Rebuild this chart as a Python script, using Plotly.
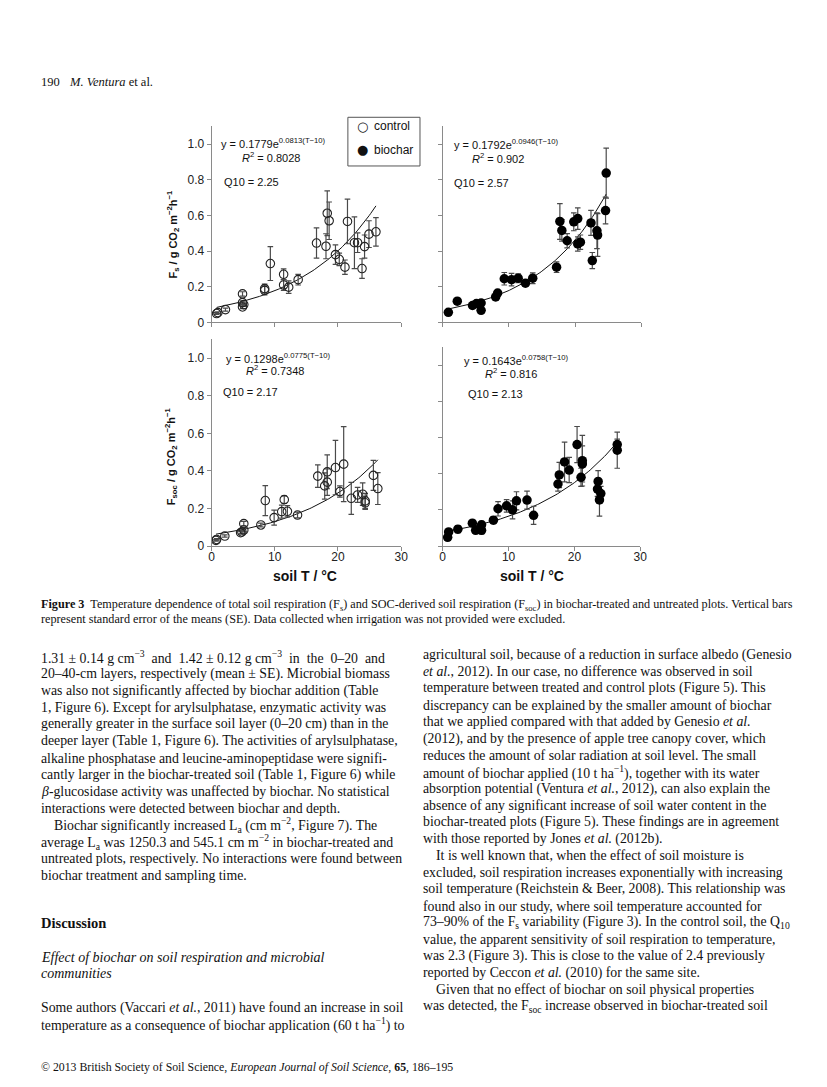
import numpy as np
import plotly.graph_objects as go

W, H = 827, 1087

# ---------------- data ----------------
fs_ctrl_T = [0.8, 1.0, 2.2, 4.9, 4.9, 4.9, 5.1, 8.4, 8.4, 9.3, 11.4, 11.4, 12.2, 13.7,
             16.6, 18.1, 18.3, 18.6, 19.6, 20.2, 21.1, 21.5, 22.6, 23.1, 23.8, 24.2, 24.9, 26.0]
fs_ctrl_y = [0.050, 0.055, 0.072, 0.160, 0.111, 0.087, 0.100, 0.180, 0.190, 0.330, 0.270, 0.210, 0.198, 0.240,
             0.445, 0.427, 0.612, 0.570, 0.380, 0.354, 0.310, 0.566, 0.447, 0.447, 0.302, 0.425, 0.495, 0.508]
fs_ctrl_e = [0.005, 0.005, 0.008, 0.012, 0.010, 0.010, 0.010, 0.025, 0.025, 0.095, 0.030, 0.030, 0.035, 0.030,
             0.085, 0.070, 0.125, 0.105, 0.055, 0.035, 0.040, 0.125, 0.145, 0.055, 0.055, 0.065, 0.075, 0.080]

fs_bio_T = [0.85, 2.2, 4.5, 5.1, 5.8, 5.8, 8.0, 8.3, 9.3, 10.4, 11.4, 12.5, 13.6,
            17.2, 17.7, 18.0, 18.8, 19.8, 20.4, 20.4, 20.8, 22.4, 22.6, 23.3, 23.4, 24.6, 24.7]
fs_bio_y = [0.057, 0.119, 0.095, 0.106, 0.109, 0.068, 0.143, 0.165, 0.245, 0.240, 0.248, 0.220, 0.248,
            0.310, 0.566, 0.516, 0.458, 0.564, 0.582, 0.440, 0.450, 0.558, 0.347, 0.514, 0.490, 0.627, 0.837]
fs_bio_e = [0.005, 0.008, 0.008, 0.008, 0.008, 0.008, 0.010, 0.012, 0.035, 0.035, 0.025, 0.015, 0.030,
            0.030, 0.100, 0.060, 0.040, 0.050, 0.060, 0.040, 0.040, 0.070, 0.045, 0.100, 0.120, 0.075, 0.140]

fsoc_ctrl_T = [0.7, 0.8, 2.1, 4.6, 4.8, 5.1, 5.1, 7.8, 8.5, 9.9, 11.1, 11.5, 12.0, 13.6,
               16.8, 17.9, 18.3, 18.3, 19.6, 20.3, 20.9, 22.1, 23.1, 23.9, 24.3, 24.3, 25.6, 26.3]
fsoc_ctrl_y = [0.030, 0.035, 0.053, 0.071, 0.075, 0.085, 0.119, 0.112, 0.242, 0.151, 0.183, 0.247, 0.185, 0.165,
               0.372, 0.320, 0.395, 0.340, 0.418, 0.290, 0.436, 0.254, 0.272, 0.276, 0.240, 0.230, 0.376, 0.306]
fsoc_ctrl_e = [0.004, 0.004, 0.006, 0.008, 0.008, 0.010, 0.012, 0.010, 0.080, 0.040, 0.035, 0.020, 0.030, 0.015,
               0.060, 0.070, 0.090, 0.070, 0.145, 0.030, 0.200, 0.085, 0.040, 0.060, 0.040, 0.035, 0.080, 0.085]

fsoc_bio_T = [0.75, 0.9, 2.3, 4.5, 5.0, 5.9, 5.9, 7.7, 8.4, 9.7, 10.6, 11.2, 12.8, 13.8,
              17.5, 17.7, 18.5, 19.2, 20.4, 21.0, 21.2, 21.2, 23.5, 23.6, 23.8, 24.0, 26.5, 26.5]
fsoc_bio_y = [0.048, 0.078, 0.093, 0.126, 0.087, 0.087, 0.117, 0.143, 0.206, 0.222, 0.200, 0.250, 0.254, 0.170,
              0.343, 0.393, 0.465, 0.420, 0.561, 0.380, 0.472, 0.454, 0.315, 0.357, 0.255, 0.290, 0.561, 0.530]
fsoc_bio_e = [0.010, 0.010, 0.020, 0.015, 0.010, 0.020, 0.020, 0.020, 0.040, 0.035, 0.050, 0.050, 0.050, 0.050,
              0.040, 0.070, 0.110, 0.070, 0.100, 0.050, 0.140, 0.100, 0.040, 0.060, 0.090, 0.040, 0.030, 0.100]

fit_a = [0.1779, 0.1792, 0.1298, 0.1643]
fit_b = [0.0813, 0.0946, 0.0775, 0.0758]
fit_a_txt = ["0.1779", "0.1792", "0.1298", "0.1643"]
fit_b_txt = ["0.0813", "0.0946", "0.0775", "0.0758"]
r2_txt = ["0.8028", "0.902", "0.7348", "0.816"]
q10_txt = ["2.25", "2.57", "2.17", "2.13"]

y_tickvals = [0, 0.2, 0.4, 0.6, 0.8, 1.0]
y_ticktext = ["0", "0.2", "0.4", "0.6", "0.8", "1.0"]
x_tickvals = [0, 10, 20, 30]
x_ticktext = ["0", "10", "20", "30"]

series_names = ["control", "biochar"]
legend_glyphs = ["○", "●"]

left_col = [
    "1.31 ± 0.14 g cm<sup>−3</sup>  and  1.42 ± 0.12 g cm<sup>−3</sup>  in  the  0–20  and",
    "20–40-cm layers, respectively (mean ± SE). Microbial biomass",
    "was also not significantly affected by biochar addition (Table",
    "1, Figure 6). Except for arylsulphatase, enzymatic activity was",
    "generally greater in the surface soil layer (0–20 cm) than in the",
    "deeper layer (Table 1, Figure 6). The activities of arylsulphatase,",
    "alkaline phosphatase and leucine-aminopeptidase were signifi-",
    "cantly larger in the biochar-treated soil (Table 1, Figure 6) while",
    "<i>β</i>-glucosidase activity was unaffected by biochar. No statistical",
    "interactions were detected between biochar and depth.",
    "Biochar significantly increased L<sub>a</sub> (cm m<sup>−2</sup>, Figure 7). The",
    "average L<sub>a</sub> was 1250.3 and 545.1 cm m<sup>−2</sup> in biochar-treated and",
    "untreated plots, respectively. No interactions were found between",
    "biochar treatment and sampling time.",
]
left_indent = [10]
right_col = [
    "agricultural soil, because of a reduction in surface albedo (Genesio",
    "<i>et al.</i>, 2012). In our case, no difference was observed in soil",
    "temperature between treated and control plots (Figure 5). This",
    "discrepancy can be explained by the smaller amount of biochar",
    "that we applied compared with that added by Genesio <i>et al.</i>",
    "(2012), and by the presence of apple tree canopy cover, which",
    "reduces the amount of solar radiation at soil level. The small",
    "amount of biochar applied (10 t ha<sup>−1</sup>), together with its water",
    "absorption potential (Ventura <i>et al.</i>, 2012), can also explain the",
    "absence of any significant increase of soil water content in the",
    "biochar-treated plots (Figure 5). These findings are in agreement",
    "with those reported by Jones <i>et al.</i> (2012b).",
    "It is well known that, when the effect of soil moisture is",
    "excluded, soil respiration increases exponentially with increasing",
    "soil temperature (Reichstein & Beer, 2008). This relationship was",
    "found also in our study, where soil temperature accounted for",
    "73–90% of the F<sub>s</sub> variability (Figure 3). In the control soil, the Q<sub>10</sub>",
    "value, the apparent sensitivity of soil respiration to temperature,",
    "was 2.3 (Figure 3). This is close to the value of 2.4 previously",
    "reported by Ceccon <i>et al.</i> (2010) for the same site.",
    "Given that no effect of biochar on soil physical properties",
    "was detected, the F<sub>soc</sub> increase observed in biochar-treated soil",
]
right_indent = [12, 20]
discussion_lines = [
    "Some authors (Vaccari <i>et al.</i>, 2011) have found an increase in soil",
    "temperature as a consequence of biochar application (60 t ha<sup>−1</sup>) to",
]
caption_lines = [
    "<b>Figure 3</b>  Temperature dependence of total soil respiration (F<sub>s</sub>) and SOC-derived soil respiration (F<sub>soc</sub>) in biochar-treated and untreated plots. Vertical bars",
    "represent standard error of the means (SE). Data collected when irrigation was not provided were excluded.",
]

# ---------------- helpers ----------------
def fx(px):
    return px / W

def fy(py):
    return 1 - py / H

SANS = "Liberation Sans, Arial, sans-serif"
SERIF = "Liberation Serif, Times New Roman, serif"
AXC = "#8a8a8a"
ERRC = "#4a4a4a"

fig = go.Figure()

panels = [
    (fs_ctrl_T, fs_ctrl_y, fs_ctrl_e, 0, "x", "y"),
    (fs_bio_T, fs_bio_y, fs_bio_e, 1, "x2", "y2"),
    (fsoc_ctrl_T, fsoc_ctrl_y, fsoc_ctrl_e, 0, "x3", "y3"),
    (fsoc_bio_T, fsoc_bio_y, fsoc_bio_e, 1, "x4", "y4"),
]

for i, (T, yv, ev, kind, xa, ya) in enumerate(panels):
    tt = np.linspace(min(T), max(T), 120)
    fig.add_trace(go.Scatter(
        x=tt, y=fit_a[i] * np.exp(fit_b[i] * (tt - 10)), mode="lines",
        line=dict(color="#111111", width=1), xaxis=xa, yaxis=ya,
        showlegend=False, hoverinfo="skip"))
    if kind == 0:
        marker = dict(symbol="circle-open", size=8.5, color="#222222", line=dict(width=1.1, color="#222222"))
    else:
        marker = dict(symbol="circle", size=9.5, color="#000000", line=dict(width=0))
    fig.add_trace(go.Scatter(
        x=T, y=yv, mode="markers", name=series_names[kind], marker=marker,
        error_y=dict(type="data", array=ev, visible=True, color=ERRC, thickness=1.2, width=2.8),
        xaxis=xa, yaxis=ya, showlegend=False))

# axis pixel boxes: (x0, x1, y of 0, px per unit) for range [0, 1.1]
boxes = [
    (203, 395, 316.5, 179.6),
    (437, 638, 316.5, 179.6),
    (203, 395, 541.5, 189.0),
    (437, 637, 541.5, 182.0),
]
axnames = ["", "2", "3", "4"]
layout = {}
for i, (x0, x1, yb, sc) in enumerate(boxes):
    n = axnames[i]
    yt = yb - 1.1 * sc
    layout["xaxis" + n] = dict(
        domain=[fx(x0), fx(x1)], range=[0, 30], anchor="y" + n,
        showline=True, linecolor=AXC, linewidth=1, showgrid=False, zeroline=False,
        ticks="outside", ticklen=4, tickcolor=AXC, tickwidth=1,
        tickvals=x_tickvals, ticktext=x_ticktext, showticklabels=(i >= 2),
        ticklabelstandoff=-4,
        tickfont=dict(family=SANS, size=12, color="#222222"))
    layout["yaxis" + n] = dict(
        domain=[fy(yb), fy(yt)], range=[0, 1.1], anchor="x" + n,
        showline=True, linecolor=AXC, linewidth=1, showgrid=False, zeroline=False,
        ticks="outside", ticklen=4, tickcolor=AXC, tickwidth=1,
        tickvals=y_tickvals, ticktext=y_ticktext, showticklabels=(i % 2 == 0),
        tickfont=dict(family=SANS, size=12, color="#222222"))

ann = []

def add_text(px, py, text, size, family=SANS, xanchor="left", color="#111111", angle=0):
    ann.append(dict(x=fx(px), y=fy(py), xref="paper", yref="paper", text=text,
                    showarrow=False, xanchor=xanchor, yanchor="middle", textangle=angle,
                    font=dict(family=family, size=size, color=color)))

# equations in panels: (eq x, eq y, r2 x, r2 y, q x, q y)
eqpos = [
    (211, 136, 232, 150, 214, 175),
    (446, 137, 465, 151, 446, 176),
    (216, 352, 236, 364.5, 213, 386),
    (457, 354, 478, 367, 461, 389),
]
for i, (ex, ey, rx, ry, qx, qy) in enumerate(eqpos):
    add_text(ex, ey, "y = %se<sup>%s(T−10)</sup>" % (fit_a_txt[i], fit_b_txt[i]), 11)
    add_text(rx, ry, "<i>R</i><sup>2</sup> = %s" % r2_txt[i], 11)
    add_text(qx, qy, "Q10 = %s" % q10_txt[i], 11)

# legend (box, glyphs, labels)
for k in range(2):
    add_text(356, 119 + 23.5 * k, legend_glyphs[k], 13, family="DejaVu Sans", xanchor="center")
    add_text(365, 119 + 23.5 * k, series_names[k], 12)

# axis titles
add_text(164, 228, "<b>F<sub>s</sub> / g CO<sub>2</sub> m<sup>−2</sup>h<sup>−1</sup></b>", 11,
         xanchor="center", angle=-90)
add_text(162, 451, "<b>F<sub>soc</sub> / g CO<sub>2</sub> m<sup>−2</sup>h<sup>−1</sup></b>", 11,
         xanchor="center", angle=-90)
add_text(298, 572, "<b>soil T / °C</b>", 14, xanchor="center")
add_text(527, 572, "<b>soil T / °C</b>", 14, xanchor="center")

# page header / caption / body / footer
LM = 28
RC = 415
add_text(LM, 74, "190", 12.5, family=SERIF)
add_text(LM + 29, 74, "<i>M. Ventura</i> et al.", 12.5, family=SERIF)
for k, line in enumerate(caption_lines):
    add_text(LM, 601 + 13.5 * k, line, 12.2, family=SERIF)
for k, line in enumerate(left_col):
    ind = 13 if k == left_indent[0] else 0
    add_text(LM + ind, 653.5 + 16.9 * k, line, 13.8, family=SERIF)
for k, line in enumerate(right_col):
    ind = 13 if k in right_indent else 0
    add_text(RC + ind, 651 + 16.86 * k, line, 13.8, family=SERIF)
add_text(LM, 921, "<b>Discussion</b>", 14.5, family=SERIF)
add_text(LM, 955.5, "<i>Effect of biochar on soil respiration and microbial</i>", 14, family=SERIF)
add_text(LM, 972, "<i>communities</i>", 14, family=SERIF)
for k, line in enumerate(discussion_lines):
    add_text(LM, 1006 + 16.9 * k, line, 13.8, family=SERIF)
add_text(LM, 1066, "© 2013 British Society of Soil Science, <i>European Journal of Soil Science</i>, <b>65</b>, 186–195",
         11.8, family=SERIF)

shapes = [dict(type="rect", xref="paper", yref="paper",
               x0=fx(341), x1=fx(414), y0=fy(159), y1=fy(110),
               line=dict(color="#555555", width=1), fillcolor="rgba(0,0,0,0)")]

fig.update_layout(
    width=W, height=H, margin=dict(l=0, r=0, t=0, b=0),
    paper_bgcolor="white", plot_bgcolor="white",
    annotations=ann, shapes=shapes, showlegend=False,
    **layout)

fig.write_html("out.html")
